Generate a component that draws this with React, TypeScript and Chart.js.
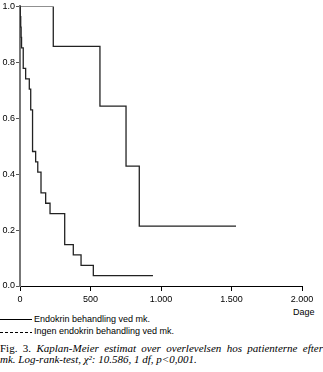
import React, { useEffect, useRef } from "react";
import { Chart, registerables } from "chart.js";

Chart.register(...registerables);

// Kaplan-Meier estimates (days, survival probability)
const treatedDays = [0, 236, 567, 752, 846, 1532];
const treatedSurvival = [1.0, 0.857, 0.643, 0.429, 0.214, 0.214];

const untreatedDays = [0, 2, 5, 8, 11, 23, 40, 66, 76, 89, 111, 126, 149, 182, 213, 317, 378, 433, 520, 943];
const untreatedSurvival = [
  1.0, 0.963, 0.926, 0.889, 0.852, 0.778, 0.741, 0.704, 0.63, 0.481, 0.444, 0.407, 0.333, 0.296, 0.259,
  0.148, 0.111, 0.074, 0.037, 0.037,
];

const xTicks = [0, 500, 1000, 1500, 2000];
const xTickLabels = ["0", "500", "1.000", "1.500", "2.000"];
const yTicks = [0, 0.2, 0.4, 0.6, 0.8, 1.0];
const yTickLabels = ["0.0", "0.2", "0.4", "0.6", "0.8", "1.0"];

const seriesLabels = ["Endokrin behandling ved mk.", "Ingen endokrin behandling ved mk."];
const xAxisTitle = "Dage";
const captionLead = "Fig. 3. ";
const captionLine1 = "Kaplan-Meier estimat over overlevelsen hos patienterne efter";
const captionLine2 = "mk. Log-rank-test, χ²: 10.586, 1 df, p<0,001.";

const W = 323;
const H = 372;
const CANVAS_H = 305;

export default function App() {
  const ref = useRef<HTMLCanvasElement | null>(null);

  useEffect(() => {
    document.body.style.margin = "0";
    const canvas = ref.current;
    if (!canvas) return;
    const axisFont = { family: "'Liberation Sans', Arial, sans-serif", size: 9 };
    const chart = new Chart(canvas, {
      type: "line",
      data: {
        datasets: [
          {
            label: seriesLabels[0],
            data: treatedDays.map((d, i) => ({ x: d, y: treatedSurvival[i] })),
            stepped: "before",
            borderColor: "#222",
            borderWidth: 1.3,
            pointRadius: 0,
            fill: false,
          },
          {
            label: seriesLabels[1],
            data: untreatedDays.map((d, i) => ({ x: d, y: untreatedSurvival[i] })),
            stepped: "before",
            borderColor: "#222",
            borderWidth: 1.3,
            pointRadius: 0,
            fill: false,
          },
        ],
      },
      options: {
        animation: false,
        responsive: false,
        devicePixelRatio: 1,
        layout: { padding: { top: 5, right: 21, left: 0, bottom: 0 } },
        plugins: { legend: { display: false }, tooltip: { enabled: false } },
        scales: {
          x: {
            type: "linear",
            min: 0,
            max: 2000,
            afterBuildTicks: (s: any) => {
              s.ticks = xTicks.map((v) => ({ value: v }));
            },
            ticks: {
              callback: (v: any) => {
                const i = xTicks.indexOf(Number(v));
                return i >= 0 ? xTickLabels[i] : "";
              },
              font: axisFont,
              color: "#000",
              padding: 3,
              maxRotation: 0,
              autoSkip: false,
            },
            grid: { drawOnChartArea: false, drawTicks: true, tickLength: 5, color: "#000" },
            border: { color: "#000", width: 1 },
            afterFit: (s: any) => {
              s.height = CANVAS_H - 286;
            },
          },
          y: {
            type: "linear",
            min: 0,
            max: 1,
            afterBuildTicks: (s: any) => {
              s.ticks = yTicks.map((v) => ({ value: v }));
            },
            ticks: {
              callback: (v: any) => {
                const i = Math.round(Number(v) / 0.2);
                return yTickLabels[i] ?? "";
              },
              font: axisFont,
              color: "#000",
              padding: 1,
              autoSkip: false,
            },
            grid: { drawOnChartArea: false, drawTicks: true, tickLength: 4, color: "#555" },
            border: { color: "#777", width: 2 },
            afterFit: (s: any) => {
              s.width = 20;
            },
          },
        },
      },
    });
    return () => chart.destroy();
  }, []);

  const sans = "'Liberation Sans', Arial, sans-serif";
  const serif = "'Liberation Serif', 'Times New Roman', serif";

  return (
    <div style={{ position: "relative", width: W, height: H, background: "#fff", overflow: "hidden" }}>
      <style>{"body{margin:0}"}</style>
      <canvas ref={ref} width={W} height={CANVAS_H} style={{ position: "absolute", left: 0, top: 0, width: W, height: CANVAS_H }} />
      <div style={{ position: "absolute", left: 293, top: 307, fontFamily: sans, fontSize: 9, lineHeight: "10px", color: "#000" }}>
        {xAxisTitle}
      </div>
      <div style={{ position: "absolute", left: 0, top: 319, width: 32, height: 1, background: "#000" }} />
      <div style={{ position: "absolute", left: 34, top: 313.5, fontFamily: sans, fontSize: 9, lineHeight: "10px", color: "#000", whiteSpace: "nowrap" }}>
        {seriesLabels[0]}
      </div>
      <div
        style={{
          position: "absolute",
          left: 0,
          top: 332,
          width: 32,
          height: 1,
          background: "repeating-linear-gradient(to right, #000 0 3px, transparent 3px 5px)",
        }}
      />
      <div style={{ position: "absolute", left: 34, top: 326, fontFamily: sans, fontSize: 9, lineHeight: "10px", color: "#000", whiteSpace: "nowrap" }}>
        {seriesLabels[1]}
      </div>
      <div
        style={{
          position: "absolute",
          left: 0,
          top: 343,
          width: W,
          fontFamily: serif,
          fontSize: 11,
          lineHeight: "11px",
          color: "#000",
          whiteSpace: "nowrap",
          textAlign: "justify",
          textAlignLast: "justify" as any,
        }}
      >
        {captionLead}
        <i>{captionLine1}</i>
      </div>
      <div
        style={{
          position: "absolute",
          left: 0,
          top: 354,
          fontFamily: serif,
          fontSize: 11,
          lineHeight: "11px",
          color: "#000",
          whiteSpace: "nowrap",
        }}
      >
        <i>{captionLine2}</i>
      </div>
    </div>
  );
}
